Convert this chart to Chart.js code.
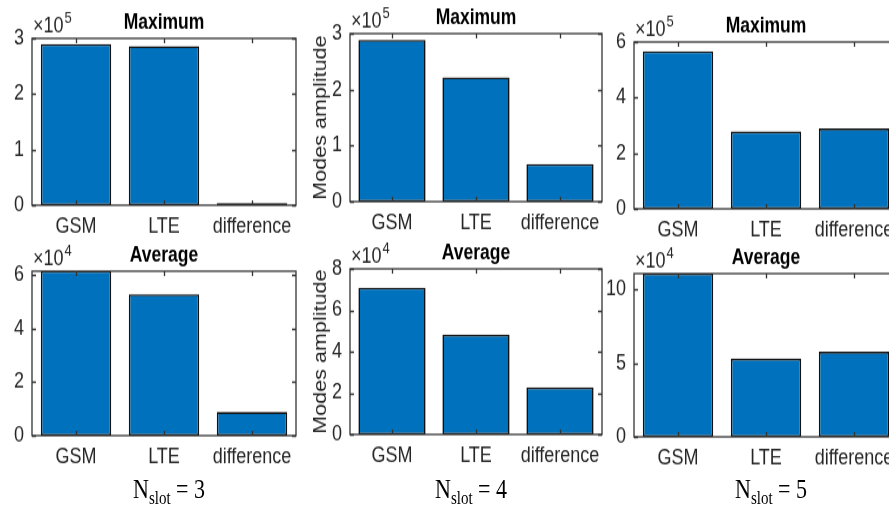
<!DOCTYPE html>
<html>
<head>
<meta charset="utf-8">
<script src="https://cdn.jsdelivr.net/npm/chart.js@4.4.1/dist/chart.umd.min.js"></script>
<style>
  html, body { margin: 0; padding: 0; background: #fff; }
  body { width: 889px; height: 507px; overflow: hidden; position: relative; }
  /* the whole figure is drawn 1.2x shorter and stretched back vertically */
  #figure { position: absolute; left: 0; top: 0; width: 889px; height: 423px;
            transform: scaleY(1.2); transform-origin: 0 0; }
  #figure canvas { position: absolute; }
  .nslot { position: absolute; width: 140px; margin-left: -70px; text-align: center;
           font-family: "Liberation Serif", "Times New Roman", serif; font-size: 22px;
           line-height: 22px; color: #000; white-space: nowrap; }
  .nslot span { font-size: 15px; position: relative; top: 5px; }
</style>
</head>
<body>
<div id="figure"></div>
<script>
const categories = ['GSM', 'LTE', 'difference'];
const slotCounts = [3, 4, 5];

// Maximum modes amplitude (x10^5), one entry per N_slot
const maxGsm  = [2.90, 2.89, 5.67];
const maxLte  = [2.86, 2.22, 2.78];
const maxDiff = [0.04, 0.67, 2.89];
const maxExponent = 5;
const maxYTop  = [3, 3, 6];
const maxYStep = [1, 1, 2];

// Average modes amplitude (x10^4)
const avgGsm  = [6.15, 7.09, 11.09];
const avgLte  = [5.27, 4.82, 5.31];
const avgDiff = [0.88, 2.27, 5.78];
const avgExponent = 4;
const avgYTop  = [6.13, 8, 11.08];
const avgYStep = [2, 2, 5];

const FONT = '"Liberation Sans", Arial, sans-serif';
const TEXT_COLOR = '#262626';
const AXIS_COLOR = '#333333';
const BAR_BLUE = '#0072BD';
const BAR_EDGE = '#111111';

Chart.defaults.font.family = FONT;

// axes boxes [left, top, right, bottom] in unstretched figure units
const boxes = [
    [32, 32, 296, 171], [350, 28, 602, 168], [634, 35, 898, 174],
    [32, 226, 296, 363], [350, 224, 602, 362], [634, 228, 898, 364]
];
const nslotX = [169, 471, 771];
const nslotTop = 397;

const fig = document.getElementById('figure');

// box around the axes with inward tick marks, like MATLAB's "box on"
const axesBox = {
    id: 'axesBox',
    afterDraw(chart) {
        const { ctx, chartArea: a, scales: { x, y } } = chart;
        const tl = 4;
        ctx.save();
        ctx.strokeStyle = AXIS_COLOR;
        ctx.lineWidth = 1.3;
        ctx.strokeRect(a.left, a.top, a.right - a.left, a.bottom - a.top);
        ctx.beginPath();
        x.ticks.forEach((t, i) => {
            const px = Math.round(x.getPixelForTick(i)) + 0.5;
            ctx.moveTo(px, a.bottom); ctx.lineTo(px, a.bottom - tl);
            ctx.moveTo(px, a.top); ctx.lineTo(px, a.top + tl);
        });
        y.ticks.forEach(t => {
            const py = Math.round(y.getPixelForValue(t.value)) + 0.5;
            ctx.moveTo(a.left, py); ctx.lineTo(a.left + tl, py);
            ctx.moveTo(a.right, py); ctx.lineTo(a.right - tl, py);
        });
        ctx.stroke();
        ctx.restore();
    }
};

// "x10^n" multiplier above the y axis
const exponentLabel = {
    id: 'exponentLabel',
    afterDraw(chart, args, opts) {
        const { ctx, chartArea: a } = chart;
        ctx.save();
        ctx.fillStyle = TEXT_COLOR;
        ctx.textAlign = 'left';
        ctx.textBaseline = 'alphabetic';
        ctx.font = `18px ${FONT}`;
        const base = '\u00d710';
        ctx.fillText(base, a.left + 1, a.top - 5);
        const w = ctx.measureText(base).width;
        ctx.font = `13px ${FONT}`;
        ctx.fillText(String(opts.power), a.left + 2 + w, a.top - 13);
        ctx.restore();
    }
};

function makePlot(idx, title, power, values, yTop, yStep, showYTitle) {
    const [L, T, R, B] = boxes[idx];
    const canvas = document.createElement('canvas');
    canvas.width = R - L + 60;
    canvas.height = B - T + 68;
    canvas.style.left = (L - 50) + 'px';
    canvas.style.top = (T - 34) + 'px';
    fig.appendChild(canvas);

    new Chart(canvas, {
        type: 'bar',
        data: {
            labels: categories,
            datasets: [{
                data: values,
                backgroundColor: BAR_BLUE,
                borderColor: BAR_EDGE,
                borderWidth: 1.6,
                borderSkipped: false,
                barPercentage: 0.8,
                categoryPercentage: 1,
                clip: 0
            }]
        },
        options: {
            responsive: false,
            animation: false,
            devicePixelRatio: 1,
            layout: { padding: { left: 0, right: 10, top: 0, bottom: 0 } },
            plugins: {
                legend: { display: false },
                tooltip: { enabled: false },
                title: {
                    display: true,
                    text: title,
                    fullSize: false,
                    color: '#000',
                    font: { size: 17.5, weight: 'bold', lineHeight: 20 / 17.5 },
                    padding: { top: 11, bottom: 3 }
                },
                exponentLabel: { power: power }
            },
            scales: {
                x: {
                    offset: true,
                    grid: { display: false, drawTicks: false },
                    border: { display: false },
                    ticks: { color: TEXT_COLOR, font: { size: 18 }, padding: 7, maxRotation: 0, autoSkip: false },
                    afterFit: s => { s.height = 34; }
                },
                y: {
                    min: 0,
                    max: yTop,
                    grid: { display: false, drawTicks: false },
                    border: { display: false },
                    ticks: { stepSize: yStep, includeBounds: false, color: TEXT_COLOR, font: { size: 18 }, padding: 8 },
                    title: {
                        display: showYTitle,
                        text: 'Modes amplitude',
                        color: TEXT_COLOR,
                        font: { size: 18 },
                        padding: { top: 10, bottom: 0 }
                    },
                    afterFit: s => { s.width = 50; }
                }
            }
        },
        plugins: [axesBox, exponentLabel]
    });
}

slotCounts.forEach((n, i) => {
    makePlot(i, 'Maximum', maxExponent, [maxGsm[i], maxLte[i], maxDiff[i]], maxYTop[i], maxYStep[i], i === 1);
    makePlot(i + 3, 'Average', avgExponent, [avgGsm[i], avgLte[i], avgDiff[i]], avgYTop[i], avgYStep[i], i === 1);

    const lbl = document.createElement('div');
    lbl.className = 'nslot';
    lbl.style.left = nslotX[i] + 'px';
    lbl.style.top = nslotTop + 'px';
    lbl.innerHTML = 'N<span>slot</span> = ' + n;
    fig.appendChild(lbl);
});
</script>
</body>
</html>
